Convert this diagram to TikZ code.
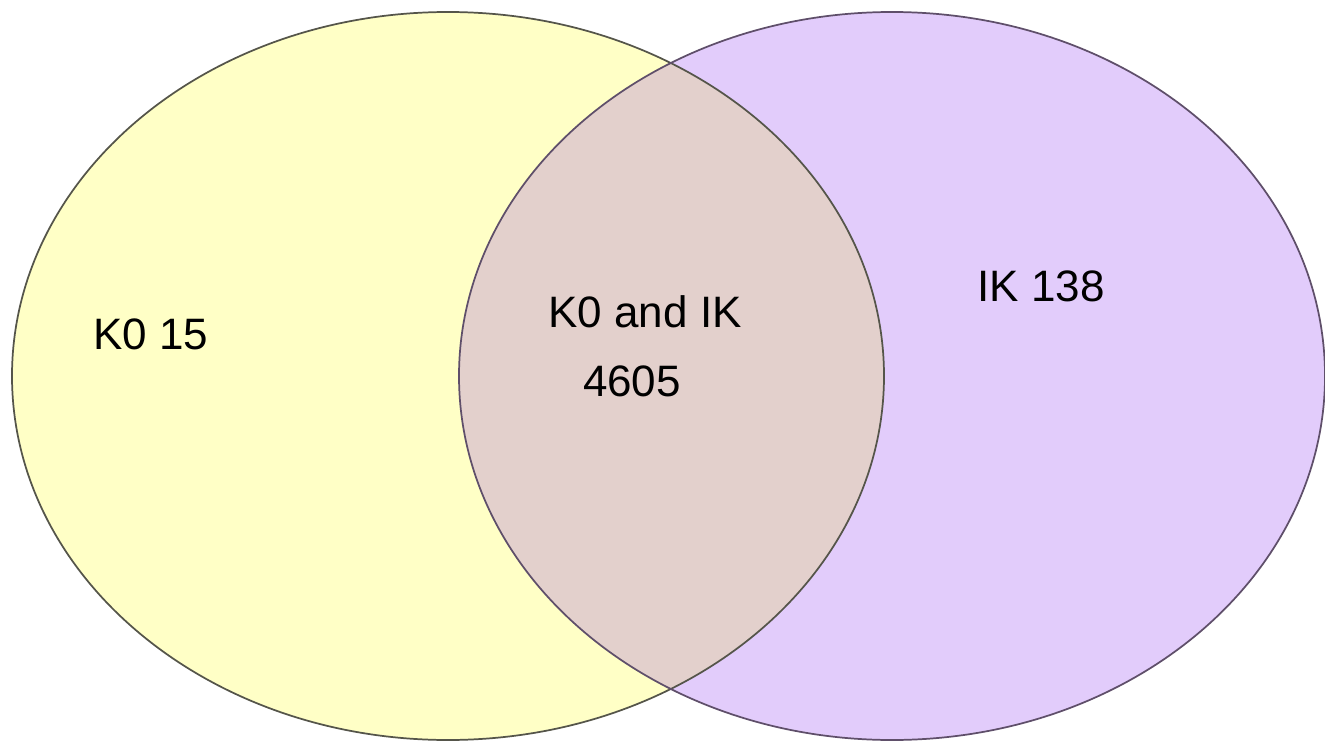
\documentclass[tikz,border=0pt]{standalone}
\usepackage{fontspec}
\setmainfont{Liberation Sans}
\definecolor{setK}{HTML}{FFFFC6}
\definecolor{setI}{HTML}{E2CCFB}
\definecolor{setKI}{HTML}{E3D0CC}
\definecolor{edgeK}{HTML}{55554A}
\definecolor{edgeI}{HTML}{5F4F6A}
\tikzset{
  setlabel/.style={font=\fontsize{33}{40}\selectfont, text=black, inner sep=0pt},
  setedge/.style={line width=1.3pt}
}
\begin{document}
\begin{tikzpicture}[x=0.75pt,y=-0.75pt]
        \useasboundingbox[fill=white] (0,0) rectangle (1325,746);
        %% Centres of the two sets
        \coordinate (kzero) at (448,376);
        \coordinate (ik) at (892,376);
        %% Fills
        \fill[setK] (kzero) ellipse [x radius=436, y radius=364];
        \fill[setI] (ik) ellipse [x radius=433, y radius=364];
        \begin{scope}
            \clip (kzero) ellipse [x radius=436, y radius=364];
            \fill[setKI] (ik) ellipse [x radius=433, y radius=364];
        \end{scope}
        %% Outlines
        \draw[setedge, edgeK] (kzero) ellipse [x radius=436, y radius=364];
        \draw[setedge, edgeI] (ik) ellipse [x radius=433, y radius=364];
        %% Labels
        \node[setlabel] (kzerolab) at (151,334) {K0 15};
        \node[setlabel] (bothlab) at (645,312) {K0 and IK};
        \node[setlabel] (bothnum) at (632,381) {4605};
        \node[setlabel] (iklab) at (1041,286) {IK 138};
    \end{tikzpicture}
\end{document}
